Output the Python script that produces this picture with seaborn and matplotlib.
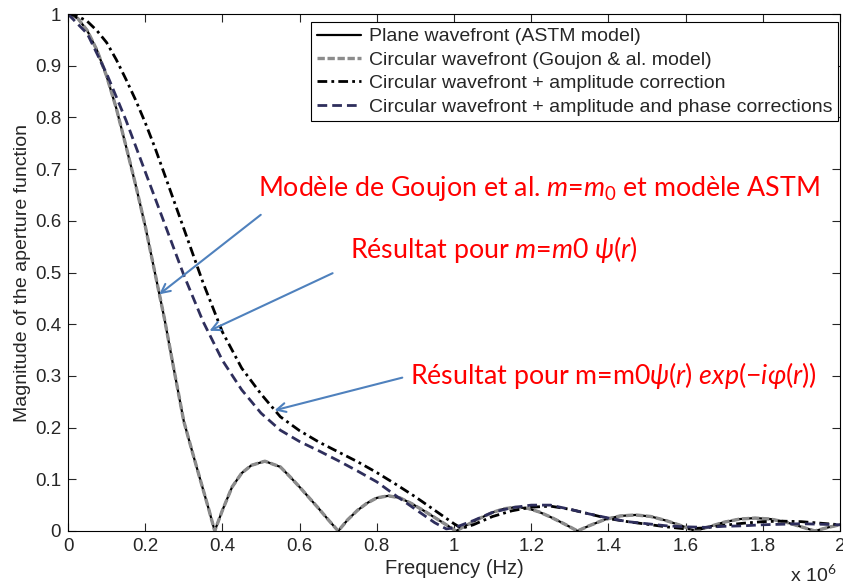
#!/usr/bin/env python3
"""Aperture function magnitude vs frequency, four wavefront models"""
import numpy as np
import seaborn as sns
from matplotlib import pyplot as plt
from matplotlib.ticker import FuncFormatter, MultipleLocator

# frequencies in units of 1e6 Hz
freq_plane = [0.0, 0.025, 0.05, 0.075, 0.10, 0.125, 0.15, 0.175, 0.20, 0.225,
              0.25, 0.275, 0.30, 0.325, 0.35, 0.365, 0.38,
              0.40, 0.425, 0.45, 0.475, 0.51, 0.55, 0.575, 0.60, 0.625, 0.65,
              0.675, 0.70,
              0.725, 0.75, 0.775, 0.80, 0.83, 0.86, 0.89, 0.92, 0.95, 0.98,
              1.005,
              1.03, 1.06, 1.10, 1.13, 1.16, 1.19, 1.22, 1.25, 1.285, 1.32,
              1.35, 1.39, 1.43, 1.47, 1.51, 1.55, 1.59, 1.625,
              1.66, 1.70, 1.74, 1.78, 1.82, 1.86, 1.90, 1.935, 1.97, 2.00]
mag_plane = [1.0, 0.992, 0.968, 0.93, 0.88, 0.818, 0.745, 0.67, 0.59, 0.50,
             0.41, 0.31, 0.212, 0.145, 0.08, 0.041, 0.0,
             0.040, 0.085, 0.112, 0.127, 0.135, 0.124, 0.105, 0.085, 0.064,
             0.043, 0.021, 0.0,
             0.022, 0.040, 0.054, 0.064, 0.068, 0.064, 0.053, 0.040, 0.026,
             0.012, 0.0,
             0.010, 0.022, 0.036, 0.043, 0.046, 0.044, 0.037, 0.027, 0.014,
             0.0,
             0.010, 0.022, 0.029, 0.031, 0.028, 0.020, 0.010, 0.0,
             0.008, 0.017, 0.023, 0.025, 0.023, 0.017, 0.008, 0.0, 0.007,
             0.012]
# Goujon model coincides with the plane wavefront model
freq_goujon = freq_plane
mag_goujon = mag_plane

freq_amp = [0.0, 0.025, 0.05, 0.075, 0.10, 0.125, 0.15, 0.175, 0.20, 0.225,
            0.25, 0.30, 0.35, 0.40, 0.45, 0.50,
            0.55, 0.60, 0.65, 0.70, 0.75, 0.80, 0.85, 0.90, 0.95, 1.00, 1.02,
            1.05, 1.10, 1.15, 1.20, 1.25, 1.30, 1.35, 1.40, 1.45, 1.50, 1.55,
            1.60, 1.65, 1.70, 1.75, 1.80, 1.85, 1.90, 1.95, 2.00]
mag_amp = [1.0, 0.996, 0.986, 0.968, 0.945, 0.912, 0.874, 0.834, 0.79, 0.742,
           0.69, 0.585, 0.480, 0.385,
           0.315, 0.265, 0.221, 0.194, 0.172, 0.153, 0.134, 0.113, 0.090,
           0.066, 0.040, 0.014, 0.005, 0.012, 0.028, 0.039, 0.046, 0.048,
           0.042, 0.033, 0.024, 0.018, 0.013, 0.008, 0.004, 0.006, 0.011,
           0.015, 0.018, 0.019, 0.018, 0.015, 0.012]

freq_phase = [0.0, 0.05, 0.10, 0.15, 0.20, 0.25, 0.30, 0.35, 0.40, 0.45,
              0.50, 0.55, 0.60, 0.65, 0.70, 0.75, 0.80, 0.85, 0.90, 0.95,
              0.98, 1.00, 1.05, 1.10, 1.15, 1.20, 1.25, 1.30, 1.35, 1.40,
              1.45, 1.50, 1.55, 1.60, 1.65, 1.70, 1.75, 1.80, 1.85, 1.90,
              1.95, 2.00]
mag_phase = [1.0, 0.962, 0.885, 0.795, 0.695, 0.595, 0.495, 0.405, 0.330,
             0.273, 0.228, 0.195, 0.173, 0.155, 0.136, 0.116, 0.095, 0.068,
             0.042, 0.016, 0.004, 0.006, 0.020, 0.036, 0.045, 0.050, 0.050,
             0.042, 0.033, 0.025, 0.018, 0.014, 0.010, 0.008, 0.007, 0.009,
             0.010, 0.012, 0.013, 0.014, 0.013, 0.012]

labels = ["Plane wavefront (ASTM model)",
          "Circular wavefront (Goujon & al. model)",
          "Circular wavefront + amplitude correction",
          "Circular wavefront + amplitude and phase corrections"]

sns.set_style("ticks")
plt.rcParams["font.family"] = ["Liberation Sans", "DejaVu Sans"]
plt.rcParams["mathtext.fontset"] = "custom"
plt.rcParams["mathtext.rm"] = "Lato"
plt.rcParams["mathtext.it"] = "Lato:italic"
plt.rcParams["xtick.direction"] = "in"
plt.rcParams["ytick.direction"] = "in"

fig = plt.figure(figsize=(8.43, 5.88), dpi=100)
ax = fig.add_axes([0.0807, 0.097, 0.9157, 0.879])

MHZ = 1e6
sns.lineplot(x=np.array(freq_plane) * MHZ, y=mag_plane, ax=ax, sort=False,
             color="black", linewidth=1.6, linestyle="-", label=labels[0])
sns.lineplot(x=np.array(freq_goujon) * MHZ, y=mag_goujon, ax=ax, sort=False,
             color="#8c8c8c", linewidth=2.4, linestyle=(0, (2.2, 0.8)),
             label=labels[1])
sns.lineplot(x=np.array(freq_amp) * MHZ, y=mag_amp, ax=ax, sort=False,
             color="black", linewidth=2.0, linestyle=(0, (3.5, 1.5, 1, 1.5)),
             label=labels[2])
sns.lineplot(x=np.array(freq_phase) * MHZ, y=mag_phase, ax=ax, sort=False,
             color="#2e2e5c", linewidth=2.0, linestyle=(0, (3.5, 1.8)),
             label=labels[3])

ax.set_xlim(0, 2 * MHZ)
ax.set_ylim(0, 1)
ax.xaxis.set_major_locator(MultipleLocator(0.2 * MHZ))
ax.yaxis.set_major_locator(MultipleLocator(0.1))
ax.xaxis.set_major_formatter(FuncFormatter(lambda v, _: f"{v / MHZ:g}"))
ax.yaxis.set_major_formatter(FuncFormatter(lambda v, _: f"{v:g}"))
ax.tick_params(axis="both", which="major", top=True, right=True,
               length=6, width=0.8, labelsize=13.5, pad=5)
for spine in ax.spines.values():
    spine.set_visible(True)
    spine.set_linewidth(0.8)
    spine.set_color("black")

ax.set_xlabel("Frequency (Hz)", fontsize=14.5, labelpad=3)
ax.set_ylabel("Magnitude of the aperture function", fontsize=14, labelpad=3)
ax.text(0.995, -0.085, "x 10$^{6}$", transform=ax.transAxes, fontsize=14,
        ha="right", va="center", family="Liberation Sans")

leg = ax.legend(loc="upper right", bbox_to_anchor=(0.998, 0.985),
                fontsize=14, frameon=True, fancybox=False, framealpha=1,
                edgecolor="black", handlelength=2.3, handletextpad=0.4,
                borderpad=0.3, labelspacing=0.3, borderaxespad=0)
leg.get_frame().set_linewidth(0.8)

# annotations with arrows
red = "#ff0000"
arrow_col = "#4f81bd"
notes = [
    (0.492, 0.663, "Modèle de Goujon et al. $m$=$m_0$ et modèle ASTM",
     (0.505, 0.615), (0.2306, 0.4545)),
    (0.731, 0.544, "Résultat pour $m$=$m0$ $\\psi$$(r)$",
     (0.692, 0.501), (0.360, 0.385)),
    (0.886, 0.300, "Résultat pour m=m0$\\psi$$(r)$ $exp(-i$$\\varphi$$(r))$",
     (0.873, 0.298), (0.528, 0.232)),
]
for tx, ty, txt, tail, tip in notes:
    ax.text(tx * MHZ, ty, txt, color=red, fontsize=19.3, family="Lato",
            ha="left", va="center")
    ax.annotate("", xy=(tip[0] * MHZ, tip[1]),
                xytext=(tail[0] * MHZ, tail[1]),
                arrowprops=dict(arrowstyle="->", color=arrow_col, lw=1.5,
                                mutation_scale=16))

plt.savefig("out.png", dpi=100)
